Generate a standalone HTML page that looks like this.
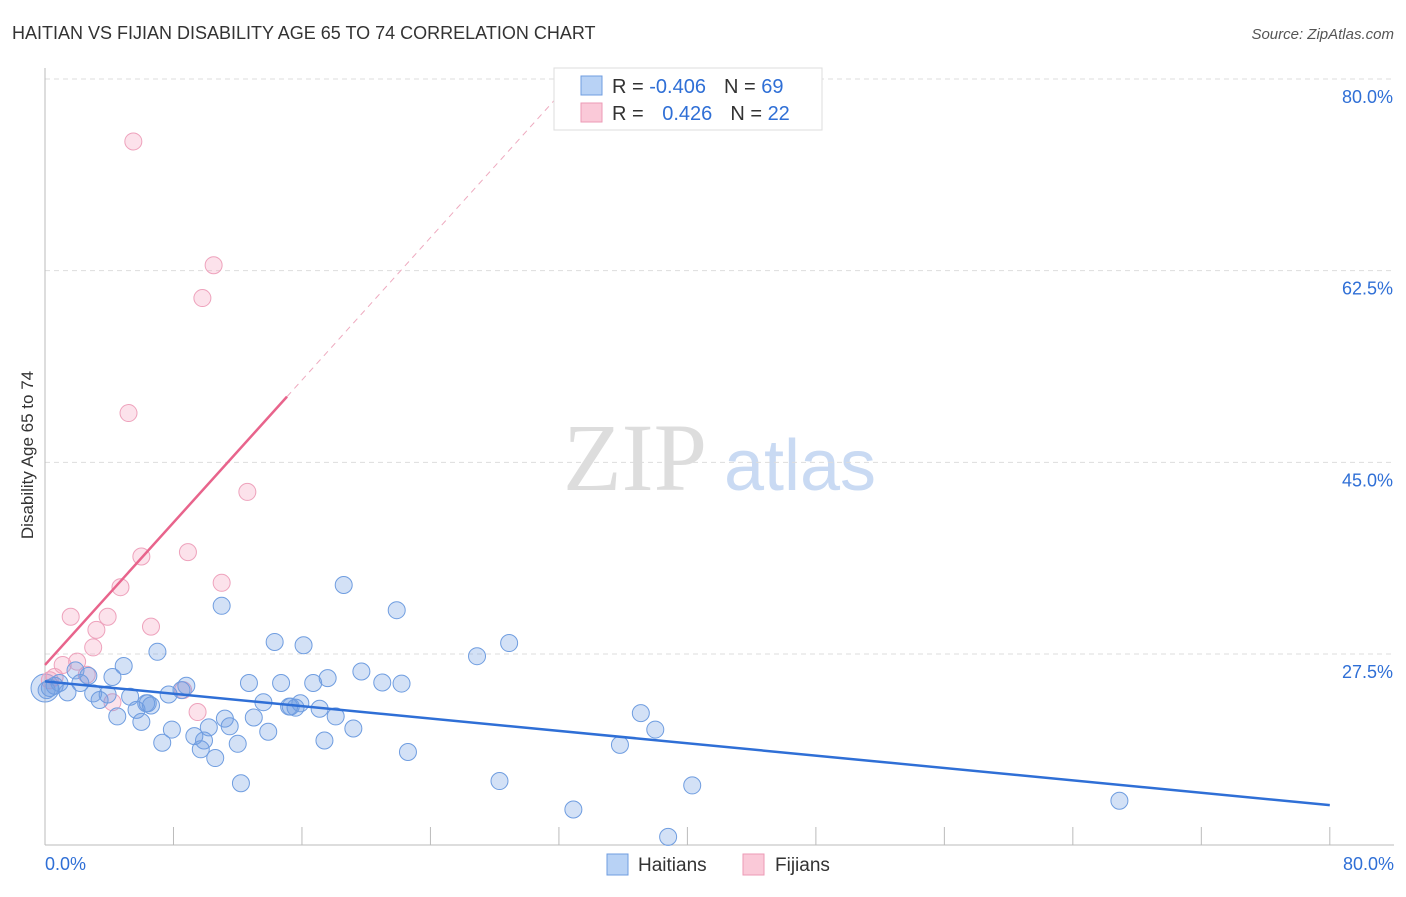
<!DOCTYPE html>
<html><head><meta charset="utf-8"><style>
body{margin:0;background:#fff;font-family:"Liberation Sans",sans-serif}
</style></head><body>
<svg id="chart" width="1406" height="892" xmlns="http://www.w3.org/2000/svg">
<text x="12" y="39" font-size="18" fill="#333">HAITIAN VS FIJIAN DISABILITY AGE 65 TO 74 CORRELATION CHART</text>
<text x="1394" y="39" font-size="15" fill="#555" font-style="italic" text-anchor="end">Source: ZipAtlas.com</text>
<text x="33" y="455" font-size="17" fill="#333" text-anchor="middle" transform="rotate(-90 33 455)">Disability Age 65 to 74</text>
<g><text x="635" y="490" font-size="96" fill="#ddd" font-family="Liberation Serif" text-anchor="middle">ZIP</text><text x="800" y="490" font-size="72" fill="#c9daf3" text-anchor="middle">atlas</text></g>
<g id="grid"></g><g id="axes"></g><g id="marks"></g>
<g>
<rect x="554" y="68" width="268" height="62" fill="#fff" stroke="#ddd"/>
<rect x="581" y="76" width="21" height="19" fill="#b8d2f5" stroke="#6f9de0"/>
<rect x="581" y="103" width="21" height="19" fill="#fac9d8" stroke="#ec9ab6"/>
<text x="612" y="93" font-size="20" fill="#333">R = <tspan fill="#2f6fd6">-0.406</tspan><tspan dx="18">N = </tspan><tspan fill="#2f6fd6">69</tspan></text>
<text x="612" y="120" font-size="20" fill="#333">R = <tspan fill="#2f6fd6" dx="13">0.426</tspan><tspan dx="18">N = </tspan><tspan fill="#2f6fd6">22</tspan></text>
</g>
<g>
<rect x="607" y="854" width="21" height="21" fill="#b8d2f5" stroke="#6f9de0"/>
<text x="638" y="871" font-size="19" fill="#333">Haitians</text>
<rect x="743" y="854" width="21" height="21" fill="#fac9d8" stroke="#ec9ab6"/>
<text x="775" y="871" font-size="19" fill="#333">Fijians</text>
</g>
</svg>
<script>
const blueX=[0.3,0.6,0.9,1.4,2.2,2.7,3.0,3.4,4.2,4.5,4.9,5.3,5.7,6.0,6.4,6.6,7.0,7.3,7.7,7.9,8.5,8.8,9.3,9.7,9.9,10.2,10.6,11.0,11.2,11.5,12.0,12.2,12.7,13.0,13.6,13.9,14.3,14.7,15.2,15.6,15.9,16.1,16.7,17.1,17.4,17.6,18.1,18.6,19.2,19.7,21.0,21.9,22.2,22.6,26.9,28.3,28.9,32.9,35.8,37.1,38.0,38.8,40.3,66.9,0.1,1.9,3.9,6.3,15.3];
const blueY=[24.4,24.6,24.85,24.0,24.85,25.5,23.9,23.3,25.4,21.8,26.4,23.6,22.4,21.3,23.0,22.8,27.7,19.4,23.8,20.6,24.2,24.6,20.0,18.8,19.6,20.8,18.0,31.9,21.6,20.9,19.3,15.7,24.85,21.7,23.1,20.4,28.6,24.85,22.7,22.6,23.0,28.3,24.85,22.5,19.6,25.3,21.8,33.8,20.7,25.9,24.9,31.5,24.8,18.55,27.3,15.9,28.5,13.3,19.2,22.1,20.6,10.8,15.5,14.1,24.2,26.0,23.8,23.0,22.7];
const pinkX=[5.5,10.5,9.8,5.2,12.6,6.0,8.9,11.0,4.7,1.6,3.9,3.2,6.6,3.0,1.1,2.0,2.6,0.6,0.3,8.6,9.5,4.2];
const pinkY=[74.3,63.0,60.0,49.5,42.3,36.4,36.8,34.0,33.6,30.9,30.9,29.7,30.0,28.1,26.5,26.8,25.6,25.4,25.1,24.2,22.2,23.1];
const blueTrend=[25.0,13.7];
const pinkTrend=[26.5,51.0];
const pinkTrendEndX=15.07;
const yTicks=[27.5,45.0,62.5,80.0];
const xTickLabels=["0.0%","80.0%"];
const NS="http://www.w3.org/2000/svg";
const X=v=>45+v*16.06, Y=v=>654-(v-27.5)*10.952;
function mk(t,a,p){const e=document.createElementNS(NS,t);for(const k in a)e.setAttribute(k,a[k]);p.appendChild(e);return e;}
const grid=document.getElementById('grid'),axes=document.getElementById('axes'),marks=document.getElementById('marks');
yTicks.forEach(t=>{
 const l=mk('line',{x1:45,x2:1394,y1:Y(t),y2:Y(t),stroke:'#ddd','stroke-dasharray':'5,4'},grid);
 
 
 const tx=mk('text',{x:1393,y:Y(t)+24,'font-size':18,fill:'#2f6fd6','text-anchor':'end'},axes);
 tx.textContent=t.toFixed(1)+'%';
 
 
});
const ax=mk('line',{x1:45,x2:1394,y1:845,y2:845,stroke:'#bbb'},axes);


const ay=mk('line',{x1:45,x2:45,y1:68,y2:845,stroke:'#bbb'},axes);


for(let i=0;i<=10;i++){const t=mk('line',{x1:X(i*8),x2:X(i*8),y1:827,y2:845,stroke:'#bbb'},axes);
 
 }
[[0,'start'],[80,'end']].forEach((d,i)=>{const t=mk('text',{x:i?1394:45,y:870,'font-size':18,fill:'#2f6fd6','text-anchor':d[1]},axes);t.textContent=xTickLabels[i];
 
 });
const big=mk('circle',{cx:X(0),cy:Y(24.4),r:14,fill:'rgba(110,155,225,0.3)',stroke:'#6f9de0'},marks);


pinkX.forEach((x,i)=>{const c=mk('circle',{cx:X(x),cy:Y(pinkY[i]),r:8.5,fill:'rgba(245,160,190,0.3)',stroke:'#eea2bc'},marks);
 
 });
blueX.forEach((x,i)=>{const c=mk('circle',{cx:X(x),cy:Y(blueY[i]),r:8.5,fill:'rgba(110,155,225,0.3)',stroke:'#6f9de0'},marks);
 
 });
const bt=mk('line',{x1:X(0),y1:Y(blueTrend[0]),x2:X(80),y2:Y(blueTrend[1]),stroke:'#2f6fd6','stroke-width':2.5},marks);


const slope=(pinkTrend[1]-pinkTrend[0])/pinkTrendEndX;
const pt=mk('line',{x1:X(0),y1:Y(pinkTrend[0]),x2:X(pinkTrendEndX),y2:Y(pinkTrend[1]),stroke:'#e8648c','stroke-width':2.5},marks);


const pd=mk('line',{x1:X(pinkTrendEndX),y1:Y(pinkTrend[1]),x2:X(32.1),y2:Y(pinkTrend[0]+slope*32.1),stroke:'#eeaabf','stroke-width':1,'stroke-dasharray':'6,5'},marks);


</script>
</body></html>
